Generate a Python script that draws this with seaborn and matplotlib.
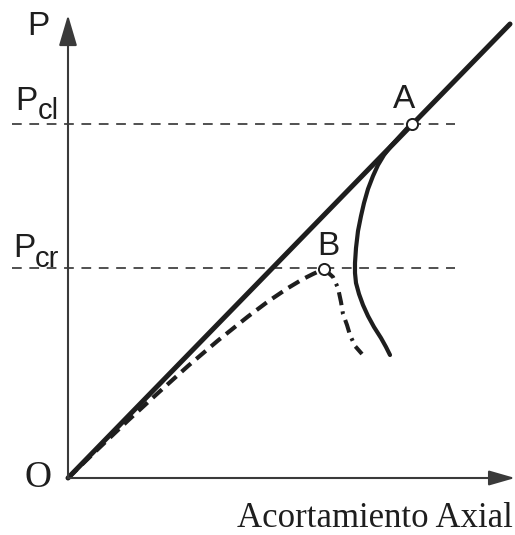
import matplotlib
matplotlib.use("Agg")
import matplotlib.pyplot as plt
import seaborn as sns
import pandas as pd

sns.set_theme(style="white")
plt.rcParams["font.family"] = ["Liberation Sans", "DejaVu Sans"]
plt.rcParams["lines.scale_dashes"] = False

# Load levels
P_cl = 354
P_cr = 210

# Linear (ideal) load path from the origin
linear_x = [0, 442]
linear_y = [0, 454]

# Point A on the linear path at P_cl, point B on the imperfect path at P_cr
A_x, A_y = 344, 354
B_x, B_y = 256, 209

# Post-buckling branch leaving A
post_A_x = [343, 333, 323, 316, 310, 305, 300, 296, 293, 290, 288, 287, 287,
            288, 291, 295, 300, 306, 313, 318, 322]
post_A_y = [354, 343, 332, 323, 313, 302, 289, 275, 262, 247, 230, 215, 205,
            195, 184, 173, 162, 151, 140, 131, 123]

# Imperfect loading path from O up to B
imperf_x = [0, 30, 60, 90, 120, 150, 180, 200, 220, 235, 245, 256]
imperf_y = [0, 29, 57.5, 85, 112, 137.5, 161.5, 176.5, 190, 199, 204, 209]

# Unloading branch after B
post_B_x = [256, 265, 270, 273, 275, 279, 282, 287, 294]
post_B_y = [209, 201, 190, 176, 164, 153, 143, 132, 124]

fig = plt.figure(figsize=(5.15, 5.35), dpi=100)
ax = fig.add_axes([0, 0, 1, 1])
ax.set_xlim(-68, 447)
ax.set_ylim(-57, 478)
ax.axis("off")

dark = "#1e1e1e"
gray = "#3a3a3a"

# Reference load levels
for lvl in (P_cl, P_cr):
    ln, = ax.plot([-56, 387], [lvl, lvl], color=gray, lw=1.25)
    ln.set_dashes((7.0, 5.5))

# Axes with arrow heads
ax.annotate("", xy=(0, 463), xytext=(0, 0),
            arrowprops=dict(arrowstyle="-|>,head_length=0.95,head_width=0.28",
                            mutation_scale=20, color=gray, lw=1.5,
                            shrinkA=0, shrinkB=0))
ax.annotate("", xy=(447, 0), xytext=(0, 0),
            arrowprops=dict(arrowstyle="-|>,head_length=0.8,head_width=0.23",
                            mutation_scale=20, color=gray, lw=1.5,
                            shrinkA=0, shrinkB=0))

df_lin = pd.DataFrame({"x": linear_x, "y": linear_y})
sns.lineplot(data=df_lin, x="x", y="y", ax=ax, color=dark, lw=3.6,
             estimator=None, sort=False, solid_capstyle="round")

df_postA = pd.DataFrame({"x": post_A_x, "y": post_A_y})
sns.lineplot(data=df_postA, x="x", y="y", ax=ax, color=dark, lw=3.0,
             estimator=None, sort=False, solid_capstyle="round",
             solid_joinstyle="round")

df_imp = pd.DataFrame({"x": imperf_x, "y": imperf_y})
sns.lineplot(data=df_imp, x="x", y="y", ax=ax, color=dark, lw=3.0,
             estimator=None, sort=False)
ax.lines[-1].set_dashes((9.0, 5.0))

df_postB = pd.DataFrame({"x": post_B_x, "y": post_B_y})
sns.lineplot(data=df_postB, x="x", y="y", ax=ax, color=dark, lw=2.9,
             estimator=None, sort=False)
ax.lines[-1].set_dashes((9.5, 4.5, 2.0, 4.5))

# Marked points
ax.plot([A_x, B_x], [A_y, B_y], "o", ms=8, mfc="white", mec=dark, mew=1.4,
        zorder=5)

txt = dict(color=dark, ha="left", va="baseline")
ax.text(-41, 443, "P", fontsize=24, **txt)
ax.text(-53, 368, "P", fontsize=24, **txt)
ax.text(-30, 359, "cl", fontsize=21, **txt)
ax.text(-55, 221, "P", fontsize=24, **txt)
ax.text(-33, 211, "cr", fontsize=21, **txt)
ax.text(325, 370, "A", fontsize=24, **txt)
ax.text(249, 223, "B", fontsize=24, **txt)
ax.text(-43, -9, "O", fontsize=27, family="Liberation Serif", **txt)
ax.text(445, -49, "Acortamiento Axial", fontsize=25, family="Liberation Serif",
        color=dark, ha="right", va="baseline")

fig.savefig("out.png", dpi=100)
